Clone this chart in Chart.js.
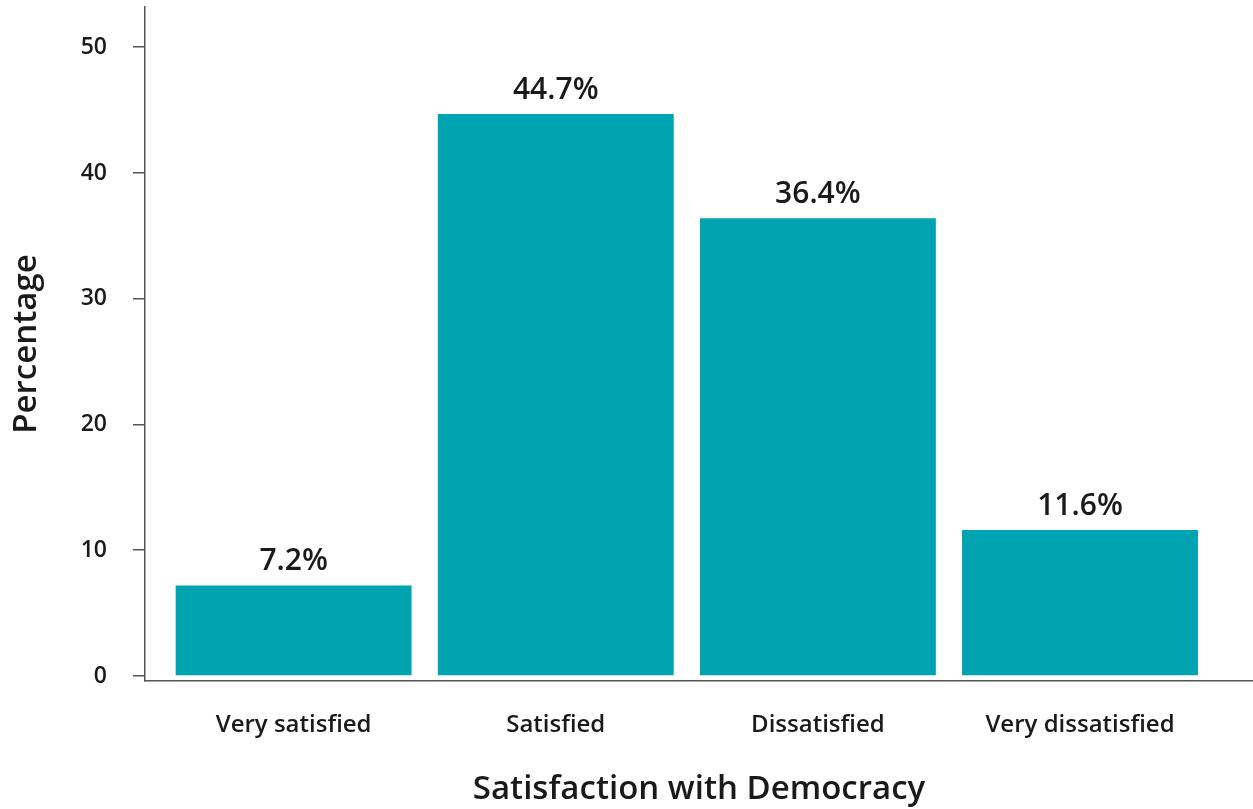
<!DOCTYPE html>
<html>
<head>
<meta charset="utf-8">
<script src="https://cdn.jsdelivr.net/npm/chart.js@4"></script>
<style>
  html, body { margin: 0; padding: 0; background: #fff; }
  #wrap { width: 1253px; height: 809px; }
</style>
</head>
<body>
<div id="wrap"><canvas id="chart" width="1253" height="809"></canvas></div>
<script>
// data
const categories = ['Very satisfied', 'Satisfied', 'Dissatisfied', 'Very dissatisfied'];
const percentages = [7.2, 44.7, 36.4, 11.6];
const yTicks = [0, 10, 20, 30, 40, 50];

const barColor = '#00a3b0';
const textColor = '#1a1a1a';
const axisColor = '#555555';
const fontFamily = '"Open Sans", "Noto Sans", sans-serif';

// percent labels above each bar
const valueLabels = {
    id: 'valueLabels',
    afterDatasetsDraw(chart) {
        const ctx = chart.ctx;
        const meta = chart.getDatasetMeta(0);
        ctx.save();
        ctx.font = `600 30px ${fontFamily}`;
        ctx.fillStyle = textColor;
        ctx.textAlign = 'center';
        ctx.textBaseline = 'alphabetic';
        meta.data.forEach((bar, i) => {
            ctx.fillText(percentages[i].toFixed(1) + '%', bar.x, bar.y - 15);
        });
        ctx.restore();
    }
};

new Chart(document.getElementById('chart'), {
    type: 'bar',
    data: {
        datasets: [{
            data: percentages.map((v, i) => ({ x: i + 1, y: v })),
            backgroundColor: barColor,
            borderWidth: 0,
            barPercentage: 0.9,
            categoryPercentage: 1
        }]
    },
    options: {
        responsive: false,
        animation: false,
        layout: { padding: { top: 7, right: 0, left: 0, bottom: 0 } },
        plugins: { legend: { display: false }, tooltip: { enabled: false } },
        scales: {
            x: {
                type: 'linear',
                min: 0.433,
                max: 4.66,
                offset: false,
                afterBuildTicks: (scale) => { scale.ticks = categories.map((c, i) => ({ value: i + 1 })); },
                afterFit: (scale) => {
                    scale.height = 128;
                    scale.paddingLeft = 0;
                    scale.paddingRight = 0;
                },
                grid: { display: false },
                border: { display: true, color: axisColor, width: 1.5 },
                ticks: {
                    autoSkip: false,
                    maxRotation: 0,
                    padding: 22,
                    color: textColor,
                    font: { family: fontFamily, size: 24, weight: '600' },
                    callback: (v) => categories[v - 1]
                },
                title: {
                    display: true,
                    text: 'Satisfaction with Democracy',
                    color: textColor,
                    font: { family: fontFamily, size: 33, weight: '600' },
                    padding: { top: 0, bottom: 0 }
                }
            },
            y: {
                min: -0.4,
                max: 53.2,
                afterBuildTicks: (scale) => { scale.ticks = yTicks.map(v => ({ value: v })); },
                afterFit: (scale) => {
                    scale.width = 145;
                    scale.paddingTop = 0;
                    scale.paddingBottom = 0;
                },
                grid: { drawOnChartArea: false, drawTicks: true, tickLength: 12, color: axisColor, lineWidth: 1.5 },
                border: { display: true, color: axisColor, width: 1.5 },
                ticks: {
                    padding: 26,
                    color: textColor,
                    font: { family: fontFamily, size: 23, weight: '600' }
                },
                title: {
                    display: true,
                    text: 'Percentage',
                    color: textColor,
                    font: { family: fontFamily, size: 33, weight: '600' },
                    padding: { top: 7, bottom: 0 }
                }
            }
        }
    },
    plugins: [valueLabels]
});
</script>
</body>
</html>
